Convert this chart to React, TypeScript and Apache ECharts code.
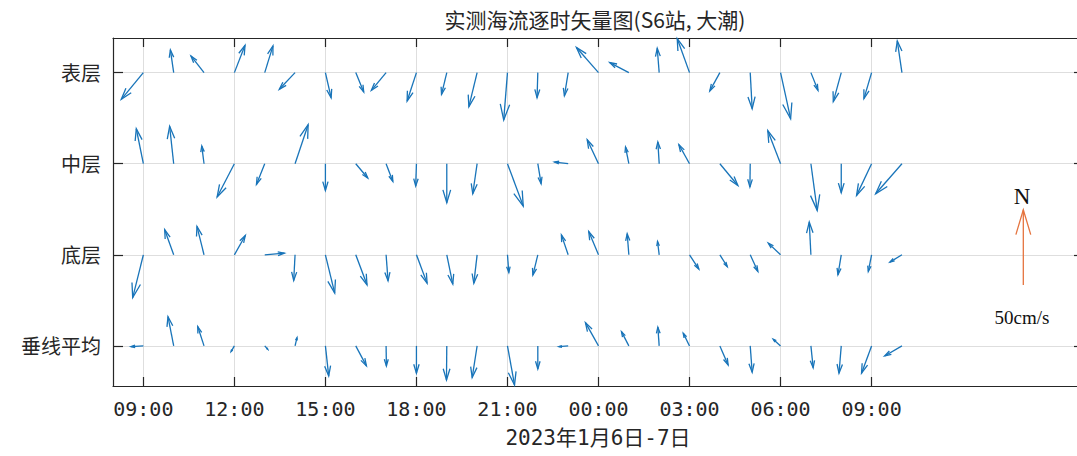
import React, { useEffect, useRef } from "react";
import * as echarts from "echarts";

// Hours counted from 00:00 on 2023-01-06 (09:00 day 6 ... 10:00 day 7)
const hours = [9, 10, 11, 12, 13, 14, 15, 16, 17, 18, 19, 20, 21, 22, 23, 24, 25, 26, 27, 28, 29, 30, 31, 32, 33, 34];

// Layers (row value on y axis) and names
const levelNames = ["表层", "中层", "底层", "垂线平均"];
const levelRows = [4, 3, 2, 1];

// Eastward (u) / northward (v) components, cm/s
const surfaceU = [-14.7, -2.2, -8.7, 7.1, 5.5, -10.5, 3.8, 5.3, -9.8, -6.2, -3.5, -5.5, -2.5, -0.5, -2.5, -14.7, -12.7, -1.3, -8.2, -6.7, 1.3, 6.7, 4.7, -5.3, -5.1, -3.1];
const surfaceV = [-17.8, 15.1, 11.1, 18.2, 17.8, -11.1, -16.7, -12.9, -11.8, -18.9, -14.5, -22.7, -31.5, -16.7, -15.5, 16.7, 6.7, 16.2, 22.7, -12.2, -24.0, -30.7, -11.8, -19.3, -17.3, 21.1];

const middleU = [-4.7, -2.7, -1.5, -11.5, -5.5, 8.7, 0.0, 8.0, 4.5, -0.5, 0.0, -2.9, 10.5, 2.2, -9.1, -7.5, -2.2, -0.9, -7.1, 12.0, -0.2, -8.5, 4.2, 0.0, -10.0, -17.5];
const middleV = [23.3, 24.9, 11.8, -22.2, -13.8, 26.0, -17.8, -9.5, -11.8, -14.9, -26.0, -20.0, -28.2, -13.3, 1.1, 16.0, 11.1, 14.5, 12.7, -14.5, -15.5, 22.0, -31.1, -19.3, -21.1, -20.0];

const bottomU = [-7.1, -6.0, -4.7, 7.3, 13.1, -0.9, 6.2, 7.5, 1.3, 7.1, 4.0, -2.2, 0.9, -3.3, -4.5, -6.5, -1.1, -1.1, 6.2, 4.9, 5.1, -8.2, -1.1, -2.2, -2.2, -8.0];
const bottomV = [-28.5, 16.7, 18.9, 12.9, 1.1, -17.1, -25.5, -20.0, -17.3, -18.9, -19.5, -18.9, -11.8, -13.5, 13.3, 15.5, 14.0, 8.9, -9.5, -7.8, -11.1, 7.8, 21.8, -13.3, -11.1, -4.9];

const meanU = [-8.2, -3.8, -4.2, -2.2, 2.0, 1.3, 2.2, 7.1, 0.2, 0.0, -0.2, -3.3, 4.7, 0.0, -6.2, -8.7, -4.9, -0.9, -4.2, 5.5, 1.3, -4.9, 1.5, -1.5, -6.7, -11.5];
const meanV = [-0.5, 19.5, 12.9, -3.8, -2.2, 5.5, -20.0, -13.3, -13.3, -18.2, -22.7, -21.1, -26.0, -15.3, -0.5, 15.5, 9.5, 12.5, 8.5, -12.7, -17.5, 4.5, -14.5, -18.2, -18.2, -6.7];

// Time ticks (hours) and their labels
const timeTicks = [9, 12, 15, 18, 21, 24, 27, 30, 33];
const timeLabels = ["09:00", "12:00", "15:00", "18:00", "21:00", "00:00", "03:00", "06:00", "09:00"];

// Scale reference arrow
const scaleArrow = { hour: 38, row: 1.67, speed: 50 };
const scaleLabel = "50cm/s";
const northLabel = "N";

const titleText = "实测海流逐时矢量图(S6站, 大潮)";
const xTitle = "2023年1月6日-7日";

// cm/s represented by one unit of the y axis
const CM_PER_UNIT = 60.7;

const BLUE = "#1874b9";
const ORANGE = "#e5743f";

function makeRender(color: string) {
  return (params: any, api: any) => {
    const x = api.value(0);
    const y = api.value(1);
    const u = api.value(2);
    const v = api.value(3);
    const p = api.coord([x, y]);
    const unitPx = api.size([0, 1])[1];
    const s = unitPx / CM_PER_UNIT;
    const dx = u * s;
    const dy = -v * s;
    const ex = p[0] + dx;
    const ey = p[1] + dy;
    const a = 0.33;
    const b = 0.3;
    const b1 = [ex - a * (dx + b * dy), ey - a * (dy - b * dx)];
    const b2 = [ex - a * (dx - b * dy), ey - a * (dy + b * dx)];
    return {
      type: "group",
      children: [
        {
          type: "line",
          shape: { x1: p[0], y1: p[1], x2: ex, y2: ey },
          style: { stroke: color, lineWidth: 1.3 },
        },
        {
          type: "polyline",
          shape: { points: [b1, [ex, ey], b2] },
          style: { stroke: color, fill: null, lineWidth: 1.3 },
        },
      ],
    };
  };
}

export default function App() {
  const ref = useRef<HTMLDivElement>(null);

  useEffect(() => {
    if (!ref.current) return;
    const chart = echarts.init(ref.current, null, { renderer: "svg" });

    const layers = [
      [surfaceU, surfaceV],
      [middleU, middleV],
      [bottomU, bottomV],
      [meanU, meanV],
    ];
    const data: number[][] = [];
    layers.forEach((uv, li) => {
      hours.forEach((h, i) => {
        data.push([h, levelRows[li], uv[0][i], uv[1][i]]);
      });
    });

    const rowName: Record<number, string> = {};
    levelRows.forEach((r, i) => (rowName[r] = levelNames[i]));
    const tickName: Record<number, string> = {};
    timeTicks.forEach((t, i) => (tickName[t] = timeLabels[i]));

    const axisColor = "#262626";
    const gridColor = "#dedede";

    chart.setOption({
      animation: false,
      grid: {
        left: 113,
        top: 38,
        width: 971,
        height: 348,
        outerBoundsMode: "none",
        containLabel: false,
      },
      xAxis: [
        {
          type: "value",
          position: "bottom",
          min: 8,
          max: 40,
          axisLine: { show: true, lineStyle: { color: axisColor, width: 1.2 } },
          axisTick: { show: true, inside: true, length: 9, customValues: timeTicks, lineStyle: { color: axisColor, width: 1.2 } },
          axisLabel: {
            show: true,
            customValues: timeTicks,
            margin: 13,
            fontSize: 20,
            fontFamily: "DejaVu Sans Mono",
            color: "#262626",
            formatter: (v: number) => tickName[v] ?? "",
          },
          splitLine: { show: true, lineStyle: { color: gridColor, width: 1 } },
        },
        {
          type: "value",
          position: "top",
          min: 8,
          max: 40,
          axisLine: { show: true, lineStyle: { color: axisColor, width: 1.2 } },
          axisTick: { show: true, inside: true, length: 9, customValues: timeTicks, lineStyle: { color: axisColor, width: 1.2 } },
          axisLabel: { show: false },
          splitLine: { show: false },
        },
      ],
      yAxis: [
        {
          type: "value",
          position: "left",
          min: 0.56,
          max: 4.38,
          axisLine: { show: true, lineStyle: { color: axisColor, width: 1.2 } },
          axisTick: { show: true, inside: true, length: 10, customValues: levelRows, lineStyle: { color: axisColor, width: 1.2 } },
          axisLabel: {
            show: true,
            customValues: levelRows,
            margin: 12,
            fontSize: 20,
            fontFamily: "Noto Sans CJK SC",
            color: "#262626",
            formatter: (v: number) => rowName[v] ?? "",
          },
          splitLine: { show: true, lineStyle: { color: gridColor, width: 1 } },
        },
        {
          type: "value",
          position: "right",
          min: 0.56,
          max: 4.38,
          axisLine: { show: true, lineStyle: { color: axisColor, width: 1.2 } },
          axisTick: { show: true, inside: true, length: 10, customValues: levelRows, lineStyle: { color: axisColor, width: 1.2 } },
          axisLabel: { show: false },
          splitLine: { show: false },
        },
      ],
      graphic: [
        {
          type: "text",
          x: 595,
          y: 19,
          style: {
            text: titleText,
            fontSize: 21,
            fontFamily: "Noto Sans CJK SC",
            fill: "#262626",
            align: "center",
            verticalAlign: "middle",
          },
        },
        {
          type: "text",
          x: 598,
          y: 438,
          style: {
            text: xTitle,
            fontSize: 21,
            fontFamily: "DejaVu Sans Mono, Noto Sans CJK SC",
            fill: "#262626",
            align: "center",
            verticalAlign: "middle",
          },
        },
        {
          type: "text",
          x: 1022,
          y: 196,
          style: {
            text: northLabel,
            fontSize: 23,
            fontFamily: "Liberation Serif",
            fill: "#111",
            align: "center",
            verticalAlign: "middle",
          },
        },
        {
          type: "text",
          x: 1022,
          y: 317,
          style: {
            text: scaleLabel,
            fontSize: 19,
            fontFamily: "Liberation Serif",
            fill: "#111",
            align: "center",
            verticalAlign: "middle",
          },
        },
      ],
      series: [
        {
          type: "custom",
          name: "currents",
          xAxisIndex: 0,
          yAxisIndex: 0,
          renderItem: makeRender(BLUE),
          data,
          silent: true,
        },
        {
          type: "custom",
          name: "scale",
          xAxisIndex: 0,
          yAxisIndex: 0,
          renderItem: makeRender(ORANGE),
          data: [[scaleArrow.hour, scaleArrow.row, 0, scaleArrow.speed]],
          silent: true,
        },
      ],
    });

    return () => chart.dispose();
  }, []);

  return (
    <div
      ref={ref}
      style={{ position: "absolute", left: 0, top: 0, width: 1077, height: 456, background: "#fff" }}
    />
  );
}
